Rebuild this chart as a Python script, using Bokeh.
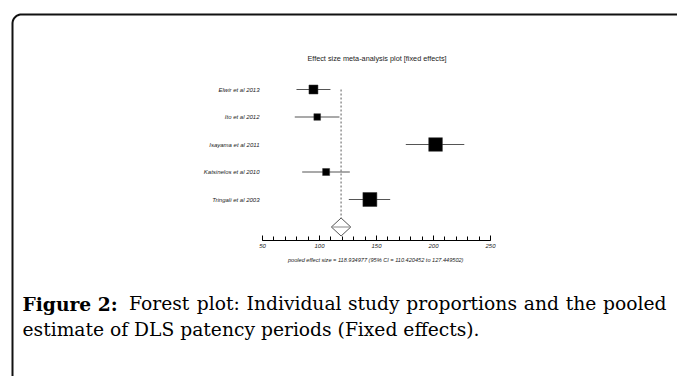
import math
from bokeh.plotting import figure
from bokeh.models import (Range1d, LinearAxis, SingleIntervalTicker,
                          ColumnDataSource, Label)
from bokeh.core.properties import value
from bokeh.embed import file_html
from bokeh.resources import INLINE

# ---------------- data ----------------
studies = ["Elwir et al 2013", "Ito et al 2012", "Isayama et al 2011",
           "Katsinelos et al 2010", "Tringali et al 2003"]
effect = [94.7, 98.0, 201.8, 105.8, 144.2]
lower = [79.8, 78.3, 175.7, 84.8, 125.7]
upper = [109.6, 117.5, 227.0, 126.6, 162.0]
weights = [14.5, 8.0, 33.6, 8.8, 35.1]

pooled_est = 118.934977
pooled_lo = 110.420452
pooled_hi = 127.449502

axis_start, axis_end = 50, 250
tick_interval = 50

title_text = "Effect size meta-analysis plot [fixed effects]"
foot_text = "pooled effect size = 118.934977  (95% CI = 110.420452 to 127.449502)"
cap_bold = "Figure 2:"
cap_line1 = "Forest plot: Individual study proportions and the pooled"
cap_line2 = "estimate of DLS patency periods (Fixed effects)."

# ---------------- layout helpers (pixel -> data) ----------------
W, H = 677, 376
PX_PER_UNIT = 1.14
X0_PX = 262.0          # pixel of value 50
ROW0_PX = 89.0
ROW_PX = 27.5


def px2x(px):
    return axis_start + (px - X0_PX) / PX_PER_UNIT


def px2y(py):
    return (py - ROW0_PX) / ROW_PX


# approximate DejaVu Serif advance widths (em), used only to justify the caption line
TW = {' ': .318, 'a': .596, 'b': .640, 'c': .560, 'd': .640, 'e': .592, 'f': .370,
      'g': .640, 'h': .644, 'i': .320, 'l': .320, 'm': .948, 'n': .644, 'o': .602,
      'p': .640, 'r': .478, 's': .513, 't': .402, 'u': .644, 'v': .565, 'w': .856,
      'x': .564, 'y': .565, 'F': .677, 'I': .373, 'D': .830, 'L': .648, 'S': .685,
      ':': .337, '.': .318, '(': .390, ')': .390}
TWB = {'F': .78, 'i': .39, 'g': .71, 'u': .75, 'r': .58, 'e': .68, ' ': .35,
       '2': .696, ':': .40}


def text_w(s, size, bold=False):
    tbl = TWB if bold else TW
    return sum(tbl.get(ch, .62) for ch in s) * size


p = figure(width=W, height=H, output_backend="svg", toolbar_location=None,
           x_axis_type=None, y_axis_type=None, min_border=0,
           x_range=Range1d(px2x(0), px2x(W)),
           y_range=Range1d(px2y(H), px2y(0)))
p.grid.visible = False
p.outline_line_color = None
p.background_fill_color = "white"
p.border_fill_color = "white"

rows = list(range(len(studies)))
sizes = [(w ** 0.5) * 2.36 for w in weights]
src = ColumnDataSource(dict(study=studies, eff=effect, lo=lower, hi=upper,
                            row=rows, size=sizes))

# border frame (left + top edges with a rounded corner), built in pixel space
bl, bt, rad = 12.0, 14.0, 9.0
bx = [bl, bl]
by = [H + 5, bt + rad]
for k in range(1, 12):
    a = math.pi - k * (math.pi / 2) / 12
    bx.append(bl + rad + rad * math.cos(a))
    by.append(bt + rad - rad * math.sin(a))
bx += [bl + rad, W + 5]
by += [bt, bt]
p.line(x=[px2x(v) for v in bx], y=[px2y(v) for v in by],
       line_color="#111111", line_width=2)

# dotted pooled line
pooled_row = len(studies)
diamond_h = 9 / ROW_PX
p.segment(x0=[pooled_est], y0=[0], x1=[pooled_est], y1=[pooled_row - diamond_h],
          line_color="#8a8a8a", line_width=1.4, line_dash="2 2")

# CI lines
p.segment(x0="lo", y0="row", x1="hi", y1="row", source=src,
          line_color="#555555", line_width=1.2)
# squares
p.scatter(x="eff", y="row", size="size", marker="square", source=src,
          fill_color="black", line_color="#333333", line_width=0.5)

# diamond
p.patch(x=[pooled_lo, pooled_est, pooled_hi, pooled_est],
        y=[pooled_row, pooled_row - diamond_h, pooled_row, pooled_row + diamond_h],
        fill_color="white", line_color="#555555", line_width=1)
p.segment(x0=[pooled_lo], y0=[pooled_row], x1=[pooled_hi], y1=[pooled_row],
          line_color="#888888", line_width=1)

# study labels
p.text(x=px2x(259), y="row", text="study", source=src,
       text_align="right", text_baseline="middle", text_font=value("Liberation Sans"),
       text_font_style="italic", text_font_size="6px", text_color="#222222")

# axis at fixed location
ax = LinearAxis(fixed_location=px2y(240), bounds=(axis_start, axis_end),
                ticker=SingleIntervalTicker(interval=tick_interval, num_minor_ticks=5),
                axis_line_color="black", axis_line_width=1,
                major_tick_in=5, major_tick_out=0, minor_tick_in=4, minor_tick_out=0,
                major_tick_line_color="black", minor_tick_line_color="black",
                major_label_text_font="Liberation Sans", major_label_text_font_size="6px",
                major_label_text_font_style="italic",
                major_label_text_color="#222222", major_label_standoff=3)
p.add_layout(ax, "below")

# title
p.add_layout(Label(x=px2x(376.5), y=px2y(58), text=title_text, text_align="center",
                   text_baseline="middle", text_font="Liberation Sans",
                   text_font_size="7.3px", text_color="#222222"))
# footnote
p.add_layout(Label(x=px2x(376), y=px2y(259), text=foot_text, text_align="center",
                   text_baseline="middle", text_font="Liberation Sans",
                   text_font_style="italic", text_font_size="5.6px", text_color="#222222"))

# caption (line 1 justified between x=22 and x=666 px)
cap_font = "DejaVu Serif"
cap_px = 18.7
cap_size = f"{cap_px}px"
left_px, right_px = 22.0, 666.0
line1_words = cap_line1.split(" ")
words = [cap_bold] + line1_words
bold_flags = [True] + [False] * len(line1_words)
widths = [text_w(wd, cap_px, b) for wd, b in zip(words, bold_flags)]
gap = (right_px - left_px - sum(widths)) / (len(words) - 1)
xpos = left_px
for i, (wd, b) in enumerate(zip(words, bold_flags)):
    last = i == len(words) - 1
    p.add_layout(Label(x=px2x(right_px if last else xpos), y=px2y(303), text=wd,
                       text_align="right" if last else "left",
                       text_baseline="middle", text_font=cap_font,
                       text_font_style="bold" if b else "normal",
                       text_font_size=cap_size, text_color="black"))
    xpos += widths[i] + gap

p.add_layout(Label(x=px2x(left_px), y=px2y(329), text=cap_line2, text_align="left",
                   text_baseline="middle", text_font=cap_font,
                   text_font_size=cap_size, text_color="black"))

open("out.html", "w").write(file_html(p, INLINE))
